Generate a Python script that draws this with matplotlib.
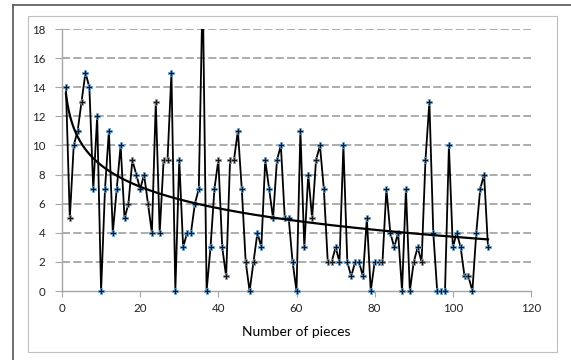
import numpy as np
import matplotlib
matplotlib.use("Agg")
import matplotlib.pyplot as plt
from matplotlib.patches import Rectangle
from matplotlib.lines import Line2D

plt.rcParams['font.family'] = ['Lato', 'DejaVu Sans']
plt.rcParams['lines.scale_dashes'] = False

pieces = list(range(1, 110))
counts = [14, 5, 10, 11, 13, 15, 14, 7, 12, 0,
          7, 11, 4, 7, 10, 5, 6, 9, 8, 7,
          8, 6, 4, 13, 4, 9, 9, 15, 0, 9,
          3, 4, 4, 6, 7, 21, 0, 3, 7, 9,
          3, 1, 9, 9, 11, 7, 2, 0, 2, 4,
          3, 9, 7, 5, 9, 10, 5, 5, 2, 0,
          11, 3, 8, 5, 9, 10, 7, 2, 2, 3,
          2, 10, 2, 1, 2, 2, 1, 5, 0, 2,
          2, 2, 7, 4, 3, 4, 0, 7, 0, 2,
          3, 2, 9, 13, 4, 0, 0, 0, 10, 3,
          4, 3, 1, 1, 0, 4, 7, 8, 3]
x_ticks = [0, 20, 40, 60, 80, 100, 120]
y_ticks = [0, 2, 4, 6, 8, 10, 12, 14, 16, 18]
x_label = "Number of pieces"

W, H = 571, 360
fig = plt.figure(figsize=(W / 100, H / 100), dpi=100)

# frame lines
fig.add_artist(Line2D([13 / W, 13 / W], [0, 1 - 5 / H], color='#555555', lw=1.2, transform=fig.transFigure))
fig.add_artist(Line2D([13 / W, 1], [1 - 5 / H, 1 - 5 / H], color='#555555', lw=1.2, transform=fig.transFigure))
fig.add_artist(Rectangle((28 / W, 1 - 352 / H), (557 - 28) / W, (352 - 16) / H,
                         fill=False, edgecolor='#bfbfbf', lw=0.8, transform=fig.transFigure))

ax = fig.add_axes([62 / W, 1 - 291 / H, (531 - 62) / W, (291 - 29) / H])
ax.set_xlim(0, 120)
ax.set_ylim(0, 18)

for yv in y_ticks[1:]:
    ax.axhline(yv, color='#a6a6a6', lw=1.3, dashes=(5.8, 2.3), zorder=1)

xs = np.array(pieces, dtype=float)
ys = np.array(counts, dtype=float)
ax.plot(xs, ys, color='black', lw=1.3, zorder=3)
mask = ys <= 18
ax.plot(xs[mask], ys[mask], ls='none', marker='P', ms=5.0, mfc='#111820',
        mec='#6fa8dc', mew=0.5, zorder=4, clip_on=False)

b, a = np.polyfit(np.log(xs), ys, 1)
xt = np.linspace(1, 109, 300)
ax.plot(xt, a + b * np.log(xt), color='black', lw=1.6, zorder=5)

for s in ['top', 'right']:
    ax.spines[s].set_visible(False)
for s in ['left', 'bottom']:
    ax.spines[s].set_color('#a6a6a6')
    ax.spines[s].set_linewidth(1.0)

ax.set_xticks(x_ticks)
ax.set_yticks(y_ticks)
ax.tick_params(axis='both', colors='#a6a6a6', labelcolor='#222222', labelsize=8.3, direction='out')
ax.tick_params(axis='y', length=5, pad=7)
ax.tick_params(axis='x', length=4, pad=5)
ax.set_xlabel(x_label, fontsize=10, labelpad=8)

fig.savefig("out.png", dpi=100)
